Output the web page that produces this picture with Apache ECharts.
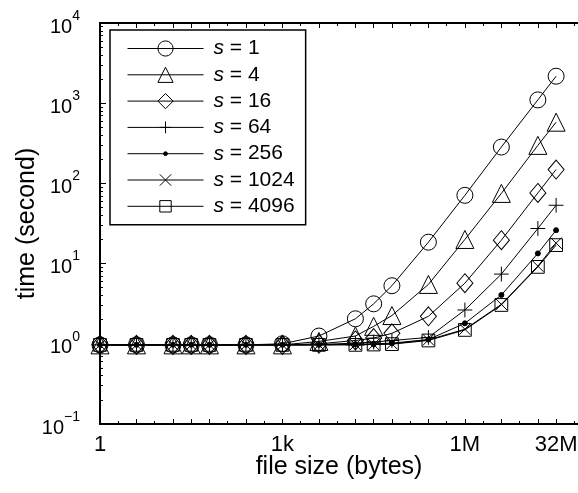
<!DOCTYPE html>
<html><head><meta charset="utf-8">
<script src="https://cdn.jsdelivr.net/npm/echarts@6/dist/echarts.min.js"></script>
<style>html,body{margin:0;padding:0;background:#fff}#c{width:578px;height:493px}</style>
</head><body><div id="c"></div>
<script>
// file sizes (bytes) where measurements were taken
const fileSizes = [1, 4, 16, 32, 64, 256, 1024, 4096, 16384, 32768, 65536, 262144, 1048576, 4194304, 16777216, 33554432];
const seriesNames = ['s = 1', 's = 4', 's = 16', 's = 64', 's = 256', 's = 1024', 's = 4096'];
// time (second)
const s1    = [0.97, 0.97, 0.97, 0.97, 0.97, 0.97, 1.0, 1.25, 2.05, 3.15, 5.3, 18.5, 71, 284, 1100, 2170];
const s4    = [0.97, 0.97, 0.97, 0.97, 0.97, 0.97, 0.97, 1.07, 1.25, 1.65, 2.25, 5.5, 20, 75, 298, 580];
const s16   = [0.97, 0.97, 0.97, 0.97, 0.97, 0.97, 0.97, 1.0, 1.1, 1.18, 1.35, 2.2, 5.7, 19.6, 76, 149];
const s64   = [0.97, 0.97, 0.97, 0.97, 0.97, 0.97, 0.97, 0.98, 1.02, 1.05, 1.1, 1.2, 2.64, 7.4, 27.4, 53.4];
const s256  = [0.97, 0.97, 0.97, 0.97, 0.97, 0.97, 0.97, 0.97, 0.99, 1.0, 1.02, 1.13, 1.8, 4.06, 13.4, 26.1];
const s1024 = [0.97, 0.97, 0.97, 0.97, 0.97, 0.97, 0.97, 0.97, 0.98, 0.98, 1.0, 1.12, 1.52, 3.1, 9.3, 18];
const s4096 = [0.97, 0.97, 0.97, 0.97, 0.97, 0.97, 0.97, 0.97, 0.97, 0.98, 0.99, 1.1, 1.49, 3.05, 9.1, 17];
const seriesValues = [s1, s4, s16, s64, s256, s1024, s4096];
// tick labels
const xLabelValues = [1, 1024, 1048576, 33554432];
const xLabelTexts = ['1', '1k', '1M', '32M'];
const yLabelValues = [0.1, 1, 10, 100, 1000, 10000];

const X_MIN = 1, X_MAX = Math.pow(2, 26.2);
const xMinorTicks = [];
for (let e = 0; e <= 26; e++) xMinorTicks.push(Math.pow(2, e));
const yMinorTicks = [];
for (let e = -1; e <= 3; e++) for (let k = 2; k <= 9; k++) yMinorTicks.push(+(k * Math.pow(10, e)).toPrecision(6));

const symbols = [
  {symbol: 'circle', size: 16, fill: 'rgba(0,0,0,0)'},
  {symbol: 'triangle', size: 18, fill: 'rgba(0,0,0,0)'},
  {symbol: 'diamond', size: [16, 19], fill: 'rgba(0,0,0,0)'},
  {symbol: 'path://M0,0M18,18M2,9L16,9M9,2L9,16', size: 19, fill: 'rgba(0,0,0,0)'},
  {symbol: 'path://M0,0M20,20M7.5,10a2.5,2.5 0 1,0 5,0a2.5,2.5 0 1,0 -5,0Z', size: 20, fill: '#000'},
  {symbol: 'path://M0,0M16,16M2,2L14,14M14,2L2,14', size: 15, fill: 'rgba(0,0,0,0)'},
  {symbol: 'path://M0,0M16,16M2,2L14,2L14,14L2,14Z', size: 17, fill: 'rgba(0,0,0,0)'}
];

const FONT = 'Liberation Sans, Arial, Helvetica, sans-serif';
const black = '#000';

function xAxisDef(pos, tickVals, len, withLine, withLabel) {
  return {
    type: 'log', logBase: 2, min: X_MIN, max: X_MAX, position: pos,
    axisLine: {show: withLine, onZero: false, lineStyle: {color: black, width: 2}},
    axisTick: {show: true, inside: true, length: len, customValues: tickVals, lineStyle: {color: black, width: 1}},
    axisLabel: withLabel ? {
      show: true, customValues: xLabelValues, color: black, fontSize: 22, fontFamily: FONT, margin: 10,
      formatter: v => { const i = xLabelValues.findIndex(x => Math.abs(x - v) / x < 1e-6); return i >= 0 ? xLabelTexts[i] : ''; }
    } : {show: false},
    splitLine: {show: false}, minorTick: {show: false},
    name: withLabel ? 'file size (bytes)' : '', nameLocation: 'middle', nameGap: 31, nameMoveOverlap: false,
    nameTextStyle: {color: black, fontSize: 25, fontFamily: FONT}
  };
}
function yAxisDef(tickVals, len, withLine, withLabel) {
  return {
    type: 'log', logBase: 10, min: 0.1, max: 10000, position: 'left',
    axisLine: {show: withLine, onZero: false, lineStyle: {color: black, width: 2}},
    axisTick: {show: true, inside: true, length: len, customValues: tickVals, lineStyle: {color: black, width: 1}},
    axisLabel: withLabel ? {
      show: true, customValues: yLabelValues, margin: 20, fontFamily: FONT, color: black,
      formatter: v => { const e = Math.round(Math.log10(v)); return '{b|10}{s|' + (e < 0 ? '\u2212' + (-e) : e) + '}'; },
      rich: {
        b: {fontSize: 20, lineHeight: 28, fontFamily: FONT, color: black, verticalAlign: 'bottom'},
        s: {fontSize: 14, lineHeight: 14, fontFamily: FONT, color: black, verticalAlign: 'top'}
      }
    } : {show: false},
    splitLine: {show: false}, minorTick: {show: false},
    name: withLabel ? 'time (second)' : '', nameLocation: 'middle', nameGap: 60, nameMoveOverlap: false,
    nameTextStyle: {color: black, fontSize: 25, fontFamily: FONT}
  };
}

const series = seriesNames.map((name, i) => ({
  type: 'line', name: name, xAxisIndex: 0, yAxisIndex: 0,
  data: fileSizes.map((x, j) => [x, seriesValues[i][j]]),
  symbol: symbols[i].symbol, symbolSize: symbols[i].size, showAllSymbol: true,
  lineStyle: {color: black, width: 1},
  itemStyle: {color: symbols[i].fill, borderColor: black, borderWidth: 1},
  emphasis: {disabled: true}, clip: false, animation: false
}));

const chart = echarts.init(document.getElementById('c'), null, {renderer: 'canvas'});
chart.setOption({
  animation: false,
  backgroundColor: '#fff',
  textStyle: {fontFamily: FONT},
  grid: {left: 100, right: 0, top: 23, bottom: 69, containLabel: false, outerBoundsMode: 'none'},
  legend: {
    orient: 'vertical', left: 110, top: 30,
    padding: [8, 11, 8, 17],
    itemWidth: 76, itemHeight: 19, itemGap: 5.3,
    borderColor: black, borderWidth: 1.5, backgroundColor: '#fff',
    selectedMode: false,
    itemStyle: {borderColor: black, borderWidth: 1},
    lineStyle: {color: black, width: 1},
    data: seriesNames,
    formatter: n => '{i|s}{n|' + n.slice(1) + '}',
    textStyle: {
      color: black, fontSize: 21, lineHeight: 19, fontFamily: FONT,
      rich: {
        i: {fontStyle: 'italic', fontSize: 21, lineHeight: 19, fontFamily: FONT, color: black, padding: [0, 0, 0, 5]},
        n: {fontSize: 21, lineHeight: 19, fontFamily: FONT, color: black}
      }
    }
  },
  xAxis: [
    xAxisDef('bottom', fileSizes, 5, true, true),
    xAxisDef('bottom', xMinorTicks, 3, false, false),
    xAxisDef('top', fileSizes, 5, true, false),
    xAxisDef('top', xMinorTicks, 3, false, false)
  ],
  yAxis: [
    yAxisDef(yLabelValues, 6, true, true),
    yAxisDef(yMinorTicks, 3, false, false)
  ],
  series: series
});
</script></body></html>
